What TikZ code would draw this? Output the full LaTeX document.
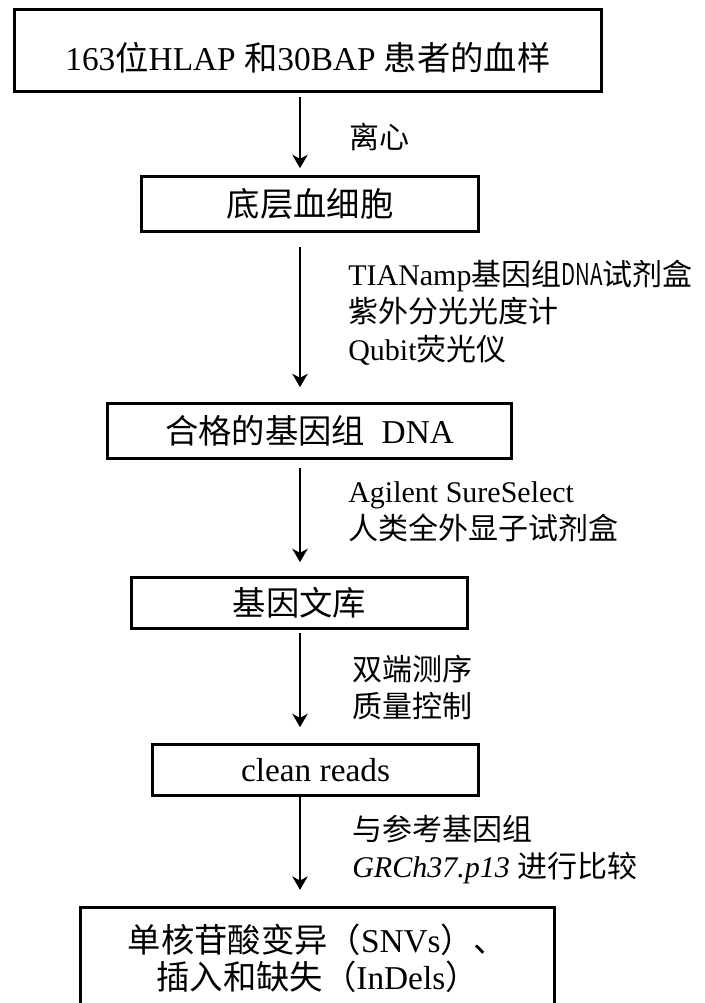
\documentclass[tikz,border=0pt]{standalone}
\usepackage{fontspec}
\usepackage{graphicx}
\setmainfont{Liberation Serif}
\newfontfamily\cjk{Noto Sans CJK SC}
\newcommand{\zh}[1]{{\cjk #1}}
\usetikzlibrary{arrows.meta}

\begin{document}
\begin{tikzpicture}[x=0.75pt,y=-0.75pt]
		\tikzstyle{box}=[draw=black, line width=2.25pt, inner sep=0pt, align=center, font=\fontsize{25}{27.75}\selectfont]
		\tikzstyle{edge}=[draw=black, line width=2.2pt, -{Stealth[length=10pt,width=11.5pt,inset=3pt]}]
		\tikzstyle{note}=[anchor=west, align=left, inner sep=0pt, font=\fontsize{22.5}{28}\selectfont]

		\useasboundingbox (0,0) rectangle (704,1003);
		\clip (0,0) rectangle (704,1003);

		\node [box, minimum width=440pt, minimum height=61.5pt, text height=33pt, text depth=3pt] (blood) at (308,50) {163\zh{位}HLAP \zh{和}30BAP \zh{患者的血样}};
		\node [box, minimum width=253pt, minimum height=41pt] (cells) at (310,204) {\zh{底层血细胞}};
		\node [box, minimum width=303pt, minimum height=41pt] (dna) at (309.5,431) {\zh{合格的基因组}\ \ DNA};
		\node [box, minimum width=252pt, minimum height=38pt] (lib) at (299.5,603) {\zh{基因文库}};
		\node [box, minimum width=244.5pt, minimum height=38pt] (reads) at (315.5,770) {clean reads};
		\node [box, minimum width=355.5pt, minimum height=76pt] (vars) at (317.5,958) {\zh{单核苷酸变异（}SNVs\zh{）、}\\ \zh{插入和缺失（}InDels\zh{）}};

		\coordinate (ax) at (300,0);

		\path[edge, shorten <=3pt, shorten >=5.25pt] (blood.south -| ax) -- (cells.north -| ax);
		\path[edge, shorten <=10.5pt, shorten >=11.25pt] (cells.south -| ax) -- (dna.north -| ax);
		\path[edge, shorten <=6pt, shorten >=10.5pt] (dna.south -| ax) -- (lib.north -| ax);
		\path[edge, shorten <=2.25pt, shorten >=12pt] (lib.south -| ax) -- (reads.north -| ax);
		\path[edge, shorten >=12pt] (reads.south -| ax) -- (vars.north -| ax);

		% what is done at each step
		\node [note] (spin) at (349,137) {\zh{离心}};
		\node [note] (kit) at (348,312.5) {TIANamp\zh{基因组}\scalebox{0.68}[1]{\zh{DNA}}\zh{试剂盒}\\ \zh{紫外分光光度计}\\ Qubit\zh{荧光仪}};
		\node [note] (capture) at (348,511.5) {Agilent SureSelect\\ \zh{人类全外显子试剂盒}};
		\node [note] (seq) at (352,687.5) {\zh{双端测序}\\ \zh{质量控制}};
		\node [note] (align) at (352,849.5) {\zh{与参考基因组}\\ \textit{GRCh37.p13} \zh{进行比较}};
\end{tikzpicture}
\end{document}
